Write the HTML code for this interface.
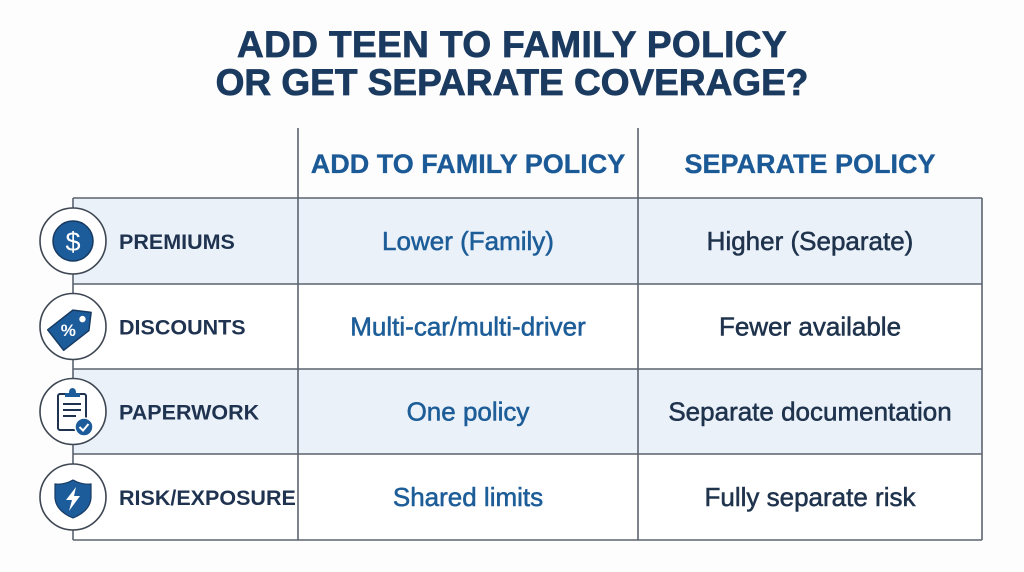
<!DOCTYPE html>
<html><head><meta charset="utf-8"><style>
html,body{margin:0;padding:0;background:#fdfdfd;}
svg{display:block;}
text{font-family:"Liberation Sans",Arial,sans-serif;}
</style></head><body>
<svg width="1024" height="572" viewBox="0 0 1024 572" xmlns="http://www.w3.org/2000/svg">
<rect width="1024" height="572" fill="#fdfdfd"/>
<!-- title -->
<text x="512" y="57" text-anchor="middle" font-size="37" font-weight="bold" fill="#1b3a60" stroke="#1b3a60" stroke-width="0.8" letter-spacing="0.4">ADD TEEN TO FAMILY POLICY</text>
<text x="512" y="95" text-anchor="middle" font-size="37" font-weight="bold" fill="#1b3a60" stroke="#1b3a60" stroke-width="0.8">OR GET SEPARATE COVERAGE?</text>
<!-- row fills -->
<rect x="73" y="198" width="909" height="86" fill="#eaf1f9"/>
<rect x="73" y="284" width="909" height="85" fill="#ffffff"/>
<rect x="73" y="369" width="909" height="85" fill="#eaf1f9"/>
<rect x="73" y="454" width="909" height="86" fill="#ffffff"/>
<!-- grid lines -->
<g stroke="#5b646f" stroke-width="1.6" fill="none">
<line x1="73" y1="198" x2="982" y2="198"/>
<line x1="73" y1="284" x2="982" y2="284"/>
<line x1="73" y1="369" x2="982" y2="369"/>
<line x1="73" y1="454" x2="982" y2="454"/>
<line x1="73" y1="540" x2="982" y2="540"/>
<line x1="73" y1="198" x2="73" y2="540"/>
<line x1="298" y1="128" x2="298" y2="540"/>
<line x1="638" y1="128" x2="638" y2="540"/>
<line x1="982" y1="198" x2="982" y2="540"/>
</g>
<!-- headers -->
<text x="468" y="173" text-anchor="middle" font-size="27" font-weight="bold" fill="#1b5a96" stroke="#1b5a96" stroke-width="0.3">ADD TO FAMILY POLICY</text>
<text x="810" y="173" text-anchor="middle" font-size="27" font-weight="bold" fill="#1b5a96" stroke="#1b5a96" stroke-width="0.3">SEPARATE POLICY</text>
<!-- row labels -->
<g font-size="21.5" font-weight="bold" fill="#1f3350">
<text x="119" y="249">PREMIUMS</text>
<text x="119" y="334.5">DISCOUNTS</text>
<text x="119" y="419.5">PAPERWORK</text>
<text x="119" y="505">RISK/EXPOSURE</text>
</g>
<!-- col1 -->
<g font-size="26" fill="#1d5d98" stroke="#1d5d98" stroke-width="0.55" text-anchor="middle">
<text x="468" y="250">Lower (Family)</text>
<text x="468" y="335.5">Multi-car/multi-driver</text>
<text x="468" y="420.5">One policy</text>
<text x="468" y="506">Shared limits</text>
</g>
<!-- col2 -->
<g font-size="26" fill="#1f334d" stroke="#1f334d" stroke-width="0.55" text-anchor="middle">
<text x="810" y="250">Higher (Separate)</text>
<text x="810" y="335.5">Fewer available</text>
<text x="810" y="420.5">Separate documentation</text>
<text x="810" y="506">Fully separate risk</text>
</g>
<!-- icon circles -->
<g fill="#ffffff" stroke="#3d4652" stroke-width="1.6">
<circle cx="73" cy="241" r="33"/>
<circle cx="73" cy="326.5" r="33"/>
<circle cx="73" cy="411.5" r="33"/>
<circle cx="73" cy="497" r="33"/>
</g>
<!-- icon 1: dollar -->
<circle cx="73" cy="241" r="20" fill="#1d5c9b" stroke="#173a62" stroke-width="1.5"/>
<text x="73" y="251" text-anchor="middle" font-size="27" fill="#ffffff">$</text>
<!-- icon 2: tag -->
<g transform="translate(73,326.5) rotate(-38)">
<path d="M-22,-13 L10,-13 L23,0 L10,13 L-22,13 Z" fill="#1d5c9b" stroke="#173a62" stroke-width="1.5" stroke-linejoin="round"/>
<circle cx="12" cy="0" r="3.2" fill="#ffffff"/>
<text x="-6" y="6" text-anchor="middle" font-size="17" font-weight="bold" fill="#ffffff" transform="rotate(38,-6,0)">%</text>
</g>
<!-- icon 3: clipboard -->
<g>
<rect x="58" y="394" width="28" height="36" rx="2" fill="#ffffff" stroke="#1f3350" stroke-width="2"/>
<path d="M65,393 L65,397 L80,397 L80,393 L76,393 Q76,388 72.5,388 Q69,388 69,393 Z" fill="#1d5c9b"/>
<g stroke="#1f3350" stroke-width="2">
<line x1="63" y1="404" x2="81" y2="404"/>
<line x1="63" y1="410" x2="81" y2="410"/>
<line x1="63" y1="416" x2="76" y2="416"/>
</g>
<circle cx="84" cy="427" r="9" fill="#1d5c9b" stroke="#ffffff" stroke-width="1.5"/>
<path d="M79.5,427 L83,430.5 L88.5,424" fill="none" stroke="#ffffff" stroke-width="2"/>
</g>
<!-- icon 4: shield -->
<path d="M73,480 Q82,485 91,484 L91,498 Q90,511 73,518 Q56,511 55,498 L55,484 Q64,485 73,480 Z" fill="#1d5c9b" stroke="#173a62" stroke-width="1.2"/>
<path d="M76,487 L66,500 L72,500 L69,511 L80,496 L74,496 Z" fill="#ffffff"/>
</svg>
</body></html>
